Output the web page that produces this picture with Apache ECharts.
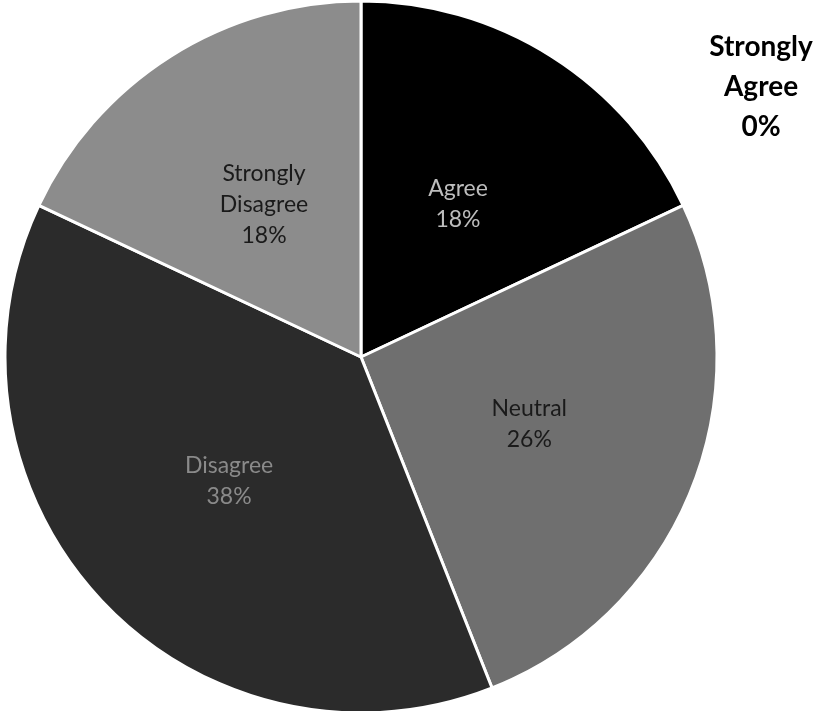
<!DOCTYPE html>
<html>
<head>
<meta charset="utf-8">
<script src="https://cdn.jsdelivr.net/npm/echarts@6/dist/echarts.min.js"></script>
<style>
html, body { margin: 0; padding: 0; background: #fff; }
#chart { width: 819px; height: 711px; }
</style>
</head>
<body>
<div id="chart"></div>
<script>
// answers, clockwise from the top
var categories = ['Agree', 'Neutral', 'Disagree', 'Strongly\nDisagree', 'Strongly\nAgree'];
var percents = [18, 26, 38, 18, 0];
var sliceColors = ['#000000', '#6f6f6f', '#2b2b2b', '#8c8c8c', '#bbbbbb'];
var labelColors = ['#bdbdbd', '#1a1a1a', '#8a8a8a', '#1a1a1a', '#000000'];

var chart = echarts.init(document.getElementById('chart'));

var pieData = [];
var zeroLabels = [];
for (var i = 0; i < categories.length; i++) {
	if (percents[i] > 0) {
		pieData.push({
			name: categories[i],
			value: percents[i],
			itemStyle: { color: sliceColors[i] },
			label: { color: labelColors[i] }
		});
	} else {
		// empty slice: excel puts its label off to the side
		zeroLabels.push(categories[i] + '\n' + percents[i] + '%');
	}
}

var option = {
	animation: false,
	backgroundColor: '#ffffff',
	graphic: zeroLabels.map(function (txt) {
		return {
			type: 'text',
			x: 761,
			y: 27,
			style: {
				text: txt,
				fontFamily: 'Lato',
				fontWeight: 'bold',
				fontSize: 28,
				lineHeight: 40,
				fill: '#000',
				align: 'center',
				verticalAlign: 'top'
			}
		};
	}),
	series: [
		{
			type: 'pie',
			center: [361, 357],
			radius: [0, 356],
			startAngle: 90,
			clockwise: true,
			data: pieData,
			itemStyle: {
				borderColor: '#ffffff',
				borderWidth: 3
			},
			label: {
				show: true,
				position: 'inside',
				fontFamily: 'Lato',
				fontSize: 23,
				lineHeight: 31,
				formatter: function (p) {
					return p.name + '\n' + p.value + '%';
				}
			},
			labelLine: { show: false }
		}
	]
};

chart.setOption(option);
</script>
</body>
</html>
